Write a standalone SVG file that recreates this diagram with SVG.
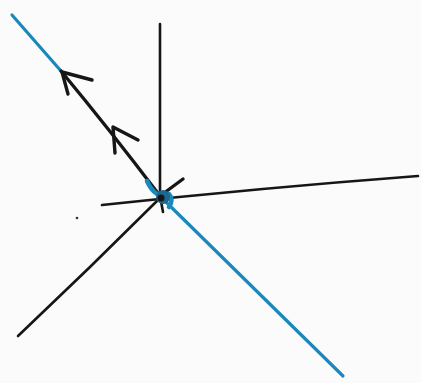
<svg xmlns="http://www.w3.org/2000/svg" width="421" height="383" viewBox="0 0 421 383">
<style>
.k{fill:none;stroke:#161616;stroke-width:2.6;stroke-linecap:round;stroke-linejoin:round}
.a{fill:none;stroke:#161616;stroke-width:3.4;stroke-linecap:round;stroke-linejoin:round}
.b{fill:none;stroke:#1a88bb;stroke-width:3.2;stroke-linecap:round;stroke-linejoin:round}
</style>
<rect width="421" height="383" fill="#fbfbfc"/>
<g id="lines">
<path class="b" d="M12,15 L61,71"/>
<path class="a" d="M61,71 Q110,130 160,196"/>
<path class="b" d="M166,202 Q250,285 343,376"/>
<path class="k" d="M160,24 L160,196 L163,212"/>
<path class="k" d="M102,205 Q260,188 418,176"/>
<path class="k" d="M18,336 Q90,268 160,198"/>
<path class="a" d="M160,196 L183,179"/>
<path class="b" d="M147,181 Q151,190 157,194 L169,194 Q174,200 169,207" style="stroke-width:4.5"/>
<circle cx="163" cy="197" r="7" fill="#1d6690"/>
<circle cx="161" cy="198" r="3.5" fill="#161616"/>
</g>
<g id="arrows">
<path class="a" d="M92,80 L62,72 L68,94"/>
<path class="a" d="M138,140 L113,127 L115,153"/>
</g>
<circle cx="77" cy="218" r="1.3" fill="#333"/>
</svg>
